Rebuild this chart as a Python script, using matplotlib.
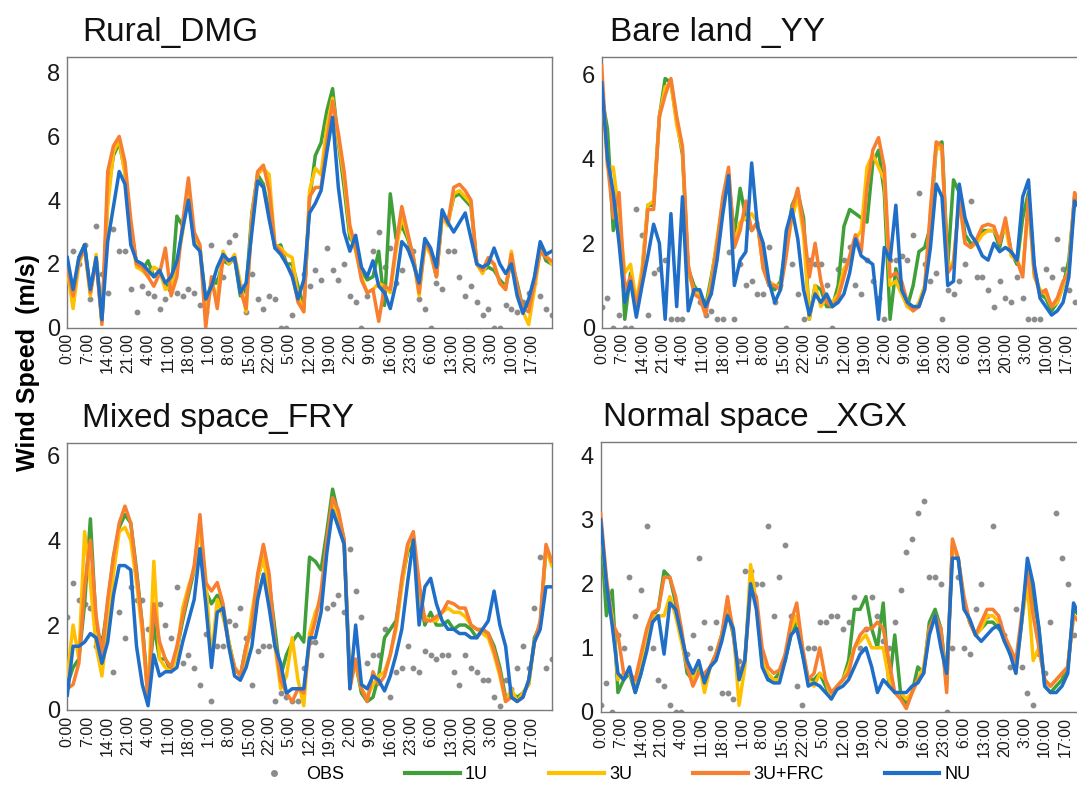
import numpy as np
import matplotlib
matplotlib.use("Agg")
import matplotlib.pyplot as plt
import matplotlib.transforms as mtransforms
from matplotlib.lines import Line2D

# sampled every 2 hours, 0:00 of day 1 to 0:00 of day 8
hours = list(range(0, 169, 2))
tick_hours = list(range(0, 162, 7))
tick_labels = [f"{h % 24}:00" for h in tick_hours]

series_names = ["OBS", "1U", "3U", "3U+FRC", "NU"]
colors = {"OBS": "#8c8c8c", "1U": "#3f9f38", "3U": "#ffc000",
          "3U+FRC": "#f77f2f", "NU": "#1f6ec8"}

# ---- Rural_DMG ----
dmg_obs = [1.4, 2.4, 2.0, 2.6, 0.9, 3.2, 1.7, 1.1, 3.1, 2.4, 2.4, 1.2,
           0.5, 1.3, 1.1, 1.0, 0.6, 0.9, 1.5, 1.1, 1.0, 1.2, 1.1, 0.7,
           0.5, 2.6, 1.5, 1.6, 2.7, 2.9, 1.3, 0.5, 1.7, 0.9, 0.6, 1.0,
           0.9, 0.0, 0.0, 0.4, 1.1, 1.7, 1.3, 1.8, 1.5, 2.5, 1.8, 1.5,
           2.0, 1.0, 0.8, 0.0, 1.0, 2.4, 3.0, 1.9, 2.5, 1.4, 1.8, 2.5,
           2.4, 0.9, 0.6, 0.0, 1.4, 1.2, 2.4, 2.4, 1.6, 1.0, 1.3, 0.8,
           0.4, 0.6, 0.0, 0.0, 0.7, 0.6, 0.5, 0.8, 1.1, 1.4, 1.0, 0.6,
           0.4]
dmg_1u = [2.0, 0.9, 2.2, 2.6, 1.1, 2.2, 0.2, 4.2, 5.4, 5.8, 4.9, 3.2,
          2.0, 1.8, 2.1, 1.6, 1.7, 1.4, 1.1, 3.5, 3.2, 4.3, 2.7, 2.5,
          0.8, 1.4, 1.4, 2.1, 2.0, 2.2, 1.0, 1.2, 3.6, 4.8, 4.5, 3.6,
          2.5, 2.6, 2.0, 2.0, 1.3, 0.6, 4.0, 5.4, 5.8, 6.8, 7.5, 5.8,
          4.4, 2.8, 2.6, 1.8, 1.5, 1.6, 2.4, 0.7, 4.2, 2.8, 3.2, 2.8,
          2.2, 1.2, 2.6, 2.4, 1.6, 3.5, 3.3, 4.1, 4.2, 4.0, 3.8, 2.0,
          1.8, 1.9, 1.8, 1.5, 1.3, 2.1, 1.4, 0.6, 0.7, 1.5, 2.6, 2.1,
          2.0]
dmg_3u = [1.8, 0.6, 2.0, 2.5, 1.0, 2.3, 0.2, 3.8, 5.5, 5.9, 4.8, 3.0,
          1.9, 1.8, 1.6, 1.9, 1.8, 1.2, 1.3, 2.0, 3.0, 4.4, 2.9, 2.5,
          0.4, 1.4, 0.9, 2.4, 2.0, 2.3, 1.4, 0.5, 3.5, 4.8, 5.0, 4.8,
          2.6, 2.5, 2.3, 2.2, 1.0, 0.5, 4.3, 5.0, 4.8, 6.3, 7.2, 5.9,
          4.7, 3.0, 2.4, 1.6, 1.1, 1.2, 1.4, 1.3, 1.1, 2.4, 3.5, 2.9,
          2.2, 1.0, 2.6, 2.3, 1.6, 3.5, 3.2, 4.2, 4.3, 4.1, 3.9, 2.0,
          1.7, 2.1, 2.0, 1.4, 1.2, 2.4, 1.2, 0.5, 0.1, 1.2, 2.4, 2.3,
          2.0]
dmg_frc = [1.9, 1.0, 2.1, 2.5, 1.1, 2.1, 0.1, 4.9, 5.7, 6.0, 5.2, 3.4,
           2.0, 1.9, 1.6, 1.3, 1.7, 2.5, 1.0, 1.6, 3.3, 4.7, 3.0, 2.6,
           0.0, 1.6, 0.6, 2.2, 2.1, 2.2, 1.2, 0.6, 3.3, 4.9, 5.1, 4.3,
           2.6, 2.4, 2.0, 1.7, 0.8, 0.5, 4.1, 4.4, 4.4, 5.8, 7.1, 6.1,
           4.9, 3.2, 2.5, 1.5, 1.1, 1.2, 0.2, 1.3, 1.2, 2.6, 3.8, 3.0,
           2.2, 1.1, 2.7, 2.4, 1.6, 3.6, 3.3, 4.4, 4.5, 4.3, 4.0, 2.0,
           1.8, 2.2, 2.0, 1.4, 1.2, 2.3, 1.3, 0.6, 0.5, 1.4, 2.4, 2.2,
           2.1]
dmg_nu = [2.2, 1.2, 2.2, 2.6, 1.2, 2.2, 0.25, 2.7, 3.8, 4.9, 4.5, 2.6,
          2.1, 2.0, 1.8, 1.6, 1.8, 1.4, 1.6, 2.1, 3.1, 4.0, 2.6, 2.4,
          0.9, 1.3, 1.9, 2.3, 2.1, 2.2, 1.1, 1.4, 3.0, 4.6, 4.4, 3.4,
          2.5, 2.3, 2.0, 1.6, 0.9, 1.5, 3.6, 3.9, 4.3, 5.5, 6.6, 4.4,
          3.0, 2.4, 2.9, 1.9, 1.6, 2.1, 1.3, 1.1, 0.6, 1.4, 2.7, 2.5,
          2.0, 1.4, 2.8, 2.5, 1.9, 3.7, 3.3, 3.0, 3.3, 3.6, 2.8, 2.0,
          1.9, 2.0, 2.5, 2.0, 1.7, 2.0, 1.0, 0.45, 0.9, 1.6, 2.7, 2.3,
          2.4]

# ---- Bare land _YY ----
yy_obs = [0.5, 0.7, 0.0, 0.3, 0.0, 0.0, 2.8, 2.2, 0.3, 1.3, 1.4, 1.6,
          0.2, 0.2, 0.2, 1.3, 0.9, 0.6, 0.3, 0.4, 0.2, 0.2, 1.8, 0.2,
          1.5, 1.0, 1.1, 0.8, 0.8, 1.9, 0.6, 1.0, 0.0, 1.5, 0.8, 0.2,
          1.6, 1.5, 1.5, 1.0, 0.0, 1.4, 1.6, 1.9, 1.0, 0.8, 1.6, 1.1,
          0.7, 0.2, 1.6, 1.6, 1.7, 1.6, 2.2, 3.2, 1.5, 1.1, 1.3, 0.2,
          0.9, 0.8, 1.1, 1.5, 3.0, 1.2, 1.2, 0.9, 0.5, 1.1, 0.7, 0.6,
          1.2, 0.7, 0.2, 0.2, 0.2, 1.4, 1.2, 2.1, 1.4, 0.9, 0.6, 2.0,
          1.6]
yy_1u = [5.5, 4.7, 2.3, 2.8, 0.2, 1.3, 0.4, 1.3, 2.9, 2.9, 5.0, 5.9,
         5.8, 4.9, 4.1, 1.4, 1.0, 0.8, 0.5, 1.2, 2.0, 2.9, 3.5, 2.2,
         3.3, 2.6, 2.3, 2.5, 1.5, 1.0, 0.9, 1.1, 2.0, 2.9, 3.2, 2.6,
         0.2, 1.0, 0.9, 0.5, 0.5, 1.0, 2.4, 2.8, 2.7, 2.6, 2.5, 3.9,
         4.2, 3.2, 0.2, 1.4, 0.9, 0.5, 1.0, 1.8, 1.9, 2.4, 4.3, 4.4,
         1.5, 3.5, 3.2, 2.2, 2.0, 2.0, 2.3, 2.3, 2.3, 1.9, 2.5, 1.8,
         1.5, 2.6, 3.2, 1.4, 0.8, 0.7, 0.4, 0.6, 1.0, 1.6, 3.1, 2.9,
         2.6]
yy_3u = [5.9, 3.8, 3.8, 2.7, 1.3, 1.5, 0.6, 1.4, 2.9, 3.0, 5.0, 5.7,
         5.8, 4.8, 4.2, 1.3, 0.9, 0.8, 0.4, 1.1, 2.1, 3.0, 3.6, 2.0,
         2.5, 2.6, 2.7, 2.5, 1.4, 1.1, 1.0, 1.0, 1.8, 2.6, 3.1, 2.2,
         0.2, 1.0, 0.5, 0.7, 0.6, 0.8, 1.4, 1.6, 2.1, 2.3, 3.8, 4.1,
         3.8, 3.5, 1.0, 1.1, 0.8, 0.5, 0.4, 0.6, 1.0, 2.7, 4.3, 4.2,
         1.3, 1.6, 3.0, 2.0, 1.9, 2.0, 2.2, 2.3, 2.3, 2.1, 2.4, 1.7,
         1.6, 1.3, 3.0, 1.2, 0.9, 0.8, 0.5, 0.6, 1.0, 1.4, 3.1, 2.9,
         2.6]
yy_frc = [6.2, 3.9, 2.6, 3.2, 0.9, 1.2, 0.5, 1.2, 2.8, 2.8, 5.0, 5.5,
          5.9, 5.0, 4.3, 1.5, 0.8, 0.7, 0.3, 1.0, 2.0, 3.1, 3.8, 1.9,
          2.3, 3.0, 2.3, 2.5, 1.4, 1.0, 1.0, 0.9, 1.7, 2.8, 3.3, 2.4,
          1.2, 2.0, 1.1, 0.6, 0.5, 0.7, 1.2, 1.7, 2.2, 1.8, 3.3, 4.2,
          4.5, 3.8, 1.2, 1.3, 1.1, 0.6, 0.4, 0.5, 0.9, 2.8, 4.4, 4.3,
          1.3, 1.5, 3.1, 2.0, 1.9, 2.1, 2.4, 2.45, 2.4, 2.0, 2.6, 1.8,
          1.6, 1.2, 3.1, 1.3, 0.8, 0.9, 0.5, 0.7, 1.1, 1.3, 3.2, 2.9,
          2.7]
yy_nu = [5.8, 4.0, 3.2, 2.0, 0.6, 1.1, 0.25, 1.0, 1.7, 2.45, 2.0, 0.2,
         2.7, 0.5, 3.1, 0.4, 0.9, 0.9, 0.5, 0.8, 1.6, 2.7, 3.6, 1.0,
         1.6, 1.8, 3.9, 2.4, 2.0, 1.1, 0.6, 0.9, 2.3, 2.8, 2.1, 0.9,
         0.3, 0.8, 0.6, 0.8, 0.5, 0.6, 0.8, 1.3, 2.1, 1.7, 1.6, 1.5,
         0.2, 1.9, 1.6, 2.9, 0.9, 0.6, 0.5, 0.5, 0.9, 1.9, 3.4, 3.1,
         1.0, 1.1, 3.4, 2.6, 2.2, 2.0, 1.7, 1.6, 2.0, 1.8, 1.9, 1.8,
         1.6, 3.1, 3.5, 1.5, 0.7, 0.5, 0.3, 0.4, 0.6, 1.2, 3.0, 2.8,
         2.6]

# ---- Mixed space_FRY ----
fry_obs = [2.2, 3.0, 2.6, 2.5, 2.4, 1.5, 1.7, 2.4, 0.9, 2.3, 1.7, 2.9,
           2.6, 2.6, 1.9, 2.1, 2.5, 2.0, 1.7, 2.9, 1.1, 1.3, 1.0, 0.6,
           1.8, 0.2, 1.5, 1.5, 2.1, 2.0, 2.4, 1.7, 0.6, 1.4, 1.5, 1.5,
           0.2, 0.4, 0.3, 0.2, 0.2, 1.0, 1.6, 1.6, 1.3, 2.4, 2.5, 2.7,
           2.3, 3.8, 2.8, 2.2, 1.1, 1.3, 1.3, 1.9, 0.3, 0.9, 1.0, 1.5,
           1.0, 0.9, 1.4, 1.3, 1.2, 1.3, 1.3, 0.9, 0.6, 1.3, 1.0, 0.9,
           0.7, 0.7, 0.3, 0.1, 0.7, 0.5, 1.0, 1.5, 1.0, 2.4, 3.6, 1.0,
           1.2]
fry_1u = [0.6, 1.0, 1.2, 2.5, 4.5, 2.0, 1.5, 2.5, 3.6, 4.3, 4.6, 4.4,
          3.3, 2.0, 0.4, 2.0, 1.2, 1.2, 0.9, 1.4, 2.1, 2.7, 3.3, 4.4,
          2.8, 2.5, 2.7, 2.4, 1.6, 1.0, 0.8, 1.5, 1.9, 3.1, 3.6, 3.0,
          1.9, 0.8, 1.3, 1.6, 1.8, 1.6, 3.6, 3.5, 3.3, 4.2, 5.2, 4.6,
          4.0, 0.7, 1.1, 0.4, 0.2, 0.3, 0.8, 1.7, 1.9, 2.1, 3.0, 3.7,
          4.0, 2.7, 2.0, 2.3, 2.0, 2.0, 2.1, 1.9, 2.0, 2.0, 1.9, 1.7,
          1.9, 1.8, 1.5, 1.0, 0.3, 0.4, 0.3, 0.4, 0.6, 1.7, 2.0, 3.8,
          3.5]
fry_3u = [0.8, 2.0, 1.2, 4.2, 3.0, 1.5, 0.8, 2.0, 3.2, 4.2, 4.3, 4.0,
          3.0, 1.8, 0.3, 3.5, 1.2, 1.0, 0.9, 1.3, 2.4, 2.9, 3.3, 4.3,
          3.1, 1.2, 2.6, 2.2, 1.6, 1.0, 0.8, 1.3, 2.3, 3.1, 3.6, 2.7,
          1.5, 0.5, 0.8, 1.7, 0.7, 0.1, 1.8, 2.3, 2.6, 3.8, 4.9, 4.4,
          3.9, 0.6, 1.1, 0.5, 0.3, 0.6, 0.8, 0.9, 1.3, 1.9, 2.9, 3.8,
          4.1, 2.5, 2.2, 2.1, 2.1, 2.3, 2.4, 2.3, 2.3, 2.2, 2.0, 1.9,
          1.8, 1.7, 1.3, 0.8, 0.2, 0.5, 0.2, 0.4, 0.6, 1.6, 2.0, 3.8,
          3.4]
fry_frc = [0.5, 0.6, 1.1, 2.9, 4.0, 2.2, 1.3, 2.6, 3.6, 4.4, 4.8, 4.4,
           3.2, 2.0, 0.2, 2.5, 1.6, 1.2, 1.0, 1.5, 2.2, 2.8, 3.4, 4.6,
           3.0, 2.8, 3.0, 2.5, 1.5, 1.0, 0.8, 1.5, 2.0, 3.2, 3.9, 3.2,
           1.6, 0.7, 0.4, 0.2, 0.5, 0.4, 1.6, 2.1, 2.8, 4.0, 5.0, 4.7,
           4.0, 0.5, 1.2, 0.5, 0.2, 0.9, 0.6, 0.8, 1.3, 2.0, 3.1, 3.9,
           4.2, 3.0, 2.1, 2.1, 2.2, 2.3, 2.55, 2.5, 2.4, 2.4, 2.0, 1.9,
           1.9, 1.8, 1.4, 0.9, 0.2, 0.3, 0.2, 0.3, 0.7, 1.6, 2.1, 3.9,
           3.5]
fry_nu = [0.35, 1.5, 1.5, 1.6, 1.8, 1.7, 1.1, 1.6, 2.7, 3.4, 3.4, 3.3,
          1.5, 0.6, 0.1, 1.3, 0.8, 0.9, 0.9, 1.0, 1.6, 2.1, 2.6, 3.8,
          2.5, 1.0, 2.3, 2.4, 1.5, 0.8, 0.7, 1.0, 1.5, 2.6, 3.2, 2.4,
          1.5, 1.1, 0.4, 0.5, 0.5, 0.5, 1.7, 1.7, 2.3, 3.7, 4.7, 4.3,
          3.9, 0.5, 2.0, 0.6, 0.5, 0.8, 0.7, 0.45, 0.8, 1.3, 1.9, 3.0,
          4.0, 2.0, 2.9, 3.1, 2.5, 2.1, 1.9, 1.9, 1.8, 1.8, 1.7, 1.7,
          1.9, 2.1, 2.8, 2.0, 1.5, 0.3, 0.2, 0.3, 0.7, 1.6, 1.9, 2.9,
          2.9]

# ---- Normal space _XGX ----
xgx_obs = [0.1, 0.45, 0.0, 1.2, 1.0, 2.1, 1.5, 1.9, 2.9, 1.0, 0.5, 0.4,
           0.1, 0.0, 0.0, 0.9, 1.2, 2.4, 1.4, 1.0, 1.4, 0.3, 0.3, 0.2,
           0.8, 2.2, 2.2, 2.0, 2.0, 2.9, 1.5, 2.1, 2.6, 1.5, 0.4, 0.1,
           1.0, 1.0, 1.4, 1.4, 1.5, 1.5, 1.3, 1.4, 1.8, 1.0, 1.3, 1.8,
           1.5, 1.1, 1.0, 1.4, 1.9, 2.5, 2.7, 3.1, 3.3, 2.1, 2.1, 2.0,
           0.0, 1.0, 2.1, 1.0, 0.9, 1.6, 2.0, 1.5, 2.9, 1.4, 1.2, 0.7,
           1.6, 0.7, 0.3, 0.1, 0.9, 0.6, 1.4, 3.1, 2.4, 2.0, 1.2, 1.2,
           0.8]
xgx_1u = [2.9, 1.5, 1.9, 0.3, 0.5, 0.6, 0.3, 0.6, 1.1, 1.5, 1.6, 2.2,
          2.1, 1.7, 1.2, 0.6, 0.5, 0.7, 0.5, 0.7, 0.9, 1.2, 1.6, 1.2,
          0.5, 0.8, 2.1, 1.7, 0.8, 0.5, 0.5, 0.6, 0.8, 1.2, 1.4, 0.9,
          0.5, 0.5, 0.6, 0.4, 0.2, 0.4, 0.5, 0.8, 1.6, 1.6, 1.8, 1.3,
          1.0, 1.7, 0.4, 1.2, 0.3, 0.1, 0.3, 0.7, 0.6, 1.4, 1.6, 1.3,
          0.5, 2.6, 2.4, 1.7, 1.4, 1.2, 1.3, 1.4, 1.4, 1.3, 1.2, 0.9,
          0.7, 1.4, 2.2, 1.8, 1.3, 0.4, 0.3, 0.4, 0.5, 0.7, 1.6, 1.5,
          1.3]
xgx_3u = [2.9, 2.0, 1.5, 0.5, 0.6, 0.6, 0.4, 0.8, 1.2, 1.5, 1.5, 1.5,
          1.8, 1.5, 1.1, 0.7, 0.5, 0.8, 0.3, 0.7, 0.9, 1.2, 1.7, 1.3,
          0.1, 0.7, 2.3, 1.7, 0.8, 0.6, 0.5, 0.5, 0.9, 1.3, 1.5, 1.0,
          0.5, 0.4, 0.6, 0.5, 0.2, 0.4, 0.5, 0.7, 1.0, 1.1, 1.2, 1.0,
          1.0, 1.0, 0.5, 0.3, 0.3, 0.2, 0.3, 0.5, 0.7, 1.3, 1.5, 1.2,
          0.4, 2.6, 2.4, 1.7, 1.4, 1.2, 1.3, 1.5, 1.5, 1.4, 1.1, 1.0,
          0.6, 1.4, 2.0, 0.8, 1.0, 0.5, 0.4, 0.5, 0.6, 0.7, 1.5, 1.4,
          1.3]
xgx_frc = [3.1, 2.1, 1.4, 1.2, 0.6, 0.6, 0.5, 0.9, 1.3, 1.55, 1.6, 2.1,
           2.1, 1.8, 1.3, 0.7, 0.4, 0.6, 0.6, 0.7, 0.9, 1.2, 1.8, 1.2,
           0.6, 0.8, 1.9, 1.8, 1.0, 0.7, 0.6, 0.65, 0.9, 1.4, 1.7, 1.0,
           0.5, 0.6, 1.0, 0.5, 0.3, 0.4, 0.5, 0.6, 1.0, 1.2, 1.3, 1.3,
           1.4, 1.3, 0.8, 0.3, 0.2, 0.05, 0.3, 0.5, 0.6, 1.3, 1.5, 1.3,
           0.3, 2.7, 2.4, 1.8, 1.4, 1.2, 1.4, 1.6, 1.6, 1.5, 1.2, 1.0,
           0.8, 1.5, 2.2, 1.5, 1.0, 0.5, 0.4, 0.5, 0.6, 0.7, 1.5, 1.4,
           1.3]
xgx_nu = [3.0, 2.0, 1.35, 0.6, 0.5, 0.7, 0.3, 0.6, 0.95, 1.4, 1.5, 0.9,
          1.7, 1.6, 1.2, 0.8, 0.6, 0.8, 0.45, 0.7, 0.8, 1.1, 1.5, 1.3,
          0.5, 0.8, 2.0, 1.6, 0.7, 0.5, 0.45, 0.45, 0.8, 1.2, 1.3, 0.9,
          0.4, 0.45, 0.4, 0.3, 0.2, 0.35, 0.4, 0.5, 0.7, 0.9, 1.0, 0.7,
          0.3, 0.5, 0.4, 0.3, 0.3, 0.3, 0.4, 0.45, 0.6, 1.2, 1.5, 1.0,
          0.6, 2.4, 2.4, 1.6, 1.45, 1.2, 1.1, 1.2, 1.3, 1.35, 1.1, 0.9,
          0.6, 1.4, 2.4, 2.0, 1.3, 0.4, 0.3, 0.3, 0.4, 0.6, 1.7, 1.5,
          1.3]

panels = [
    ("Rural_DMG", [dmg_obs, dmg_1u, dmg_3u, dmg_frc, dmg_nu], [0, 2, 4, 6, 8], 8.48,
     [0.0625, 0.5841, 0.4498, 0.3431], 0.03),
    ("Bare land _YY", [yy_obs, yy_1u, yy_3u, yy_frc, yy_nu], [0, 2, 4, 6], 6.4,
     [0.5587, 0.5841, 0.4498, 0.3431], 0.017),
    ("Mixed space_FRY", [fry_obs, fry_1u, fry_3u, fry_frc, fry_nu], [0, 2, 4, 6], 6.28,
     [0.0625, 0.0990, 0.4498, 0.3385], 0.03),
    ("Normal space _XGX", [xgx_obs, xgx_1u, xgx_3u, xgx_frc, xgx_nu], [0, 1, 2, 3, 4], 4.22,
     [0.5577, 0.0968, 0.4498, 0.3426], 0.005),
]

plt.rcParams['font.family'] = ['Liberation Sans', 'DejaVu Sans']

fig = plt.figure(figsize=(10.77, 7.88), dpi=100)
lift = mtransforms.ScaledTranslation(0, 0.06, fig.dpi_scale_trans)

for title, data, yticks, ytop, rect, tx in panels:
    for s in data:
        assert len(s) == len(hours), (title, len(s))
    ax = fig.add_axes(rect)
    obs, u1, u3, frc, nu = data
    ax.plot(hours, obs, linestyle='none', marker='o', markersize=3.2,
            color=colors["OBS"], zorder=2)
    for vals, name in [(u1, "1U"), (u3, "3U"), (frc, "3U+FRC"), (nu, "NU")]:
        ax.plot(hours, vals, color=colors[name], linewidth=2.5,
                solid_joinstyle='round', zorder=3)
    ax.set_xlim(0, 168)
    ax.set_ylim(0, ytop)
    ax.set_yticks(yticks)
    ax.set_yticklabels([str(t) for t in yticks], fontsize=17)
    for lab in ax.get_yticklabels():
        lab.set_transform(lab.get_transform() + lift)
    ax.set_xticks(tick_hours)
    ax.set_xticklabels(tick_labels, rotation=90, fontsize=11.5)
    ax.tick_params(axis='both', length=0, colors='#1a1a1a')
    ax.tick_params(axis='x', pad=4)
    ax.tick_params(axis='y', pad=5)
    for sp in ax.spines.values():
        sp.set_color('#7a7a7a')
        sp.set_linewidth(1.0)
    ax.text(tx, 1.0 + 16 / 270.0, title, transform=ax.transAxes,
            fontsize=24, va='baseline', ha='left', color='#111111')

fig.text(0.026, 0.54, "Wind Speed  (m/s)", rotation=90, fontsize=18,
         fontweight='bold', ha='center', va='center')

handles = [Line2D([], [], linestyle='none', marker='o', markersize=4,
                  color=colors["OBS"])]
for name in series_names[1:]:
    handles.append(Line2D([], [], color=colors[name], linewidth=3))
fig.legend(handles, series_names, loc='center', bbox_to_anchor=(0.565, 0.017),
           ncol=5, frameon=False, fontsize=13, handlelength=3.0,
           handletextpad=0.3, columnspacing=3.4)

fig.savefig("out.png", dpi=100)
